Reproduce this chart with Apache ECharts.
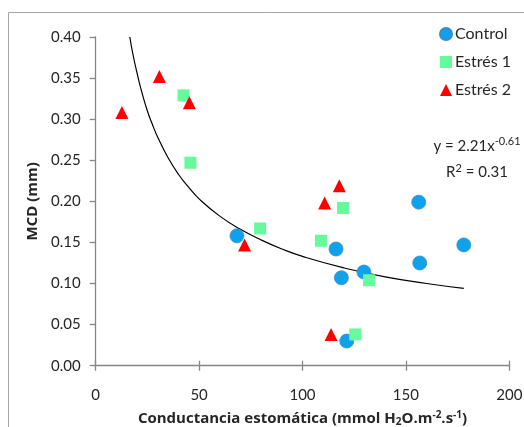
<!DOCTYPE html>
<html>
<head>
<meta charset="utf-8">
<script src="https://cdn.jsdelivr.net/npm/echarts@6/dist/echarts.min.js"></script>
<style>
  html, body { margin: 0; padding: 0; background: #fff; }
  #chart { width: 524px; height: 427px; }
</style>
</head>
<body>
<div id="chart"></div>
<script>
// datos
var controlX = [68.3, 116.2, 118.8, 129.7, 156.7, 178.0, 121.4, 156.2];
var controlY = [0.158, 0.142, 0.107, 0.114, 0.125, 0.147, 0.030, 0.199];

var estres1X = [42.5, 45.8, 79.5, 108.9, 119.6, 132.2, 125.5];
var estres1Y = [0.329, 0.247, 0.167, 0.152, 0.192, 0.104, 0.038];

var estres2X = [12.7, 30.8, 45.3, 72.0, 110.7, 117.8, 113.8];
var estres2Y = [0.308, 0.352, 0.320, 0.147, 0.198, 0.219, 0.038];

// curva de tendencia potencial
var trendX = [16.5, 18, 20, 22.5, 25, 27.5, 30, 35, 40, 45, 50, 60, 70, 80, 90, 100, 120, 140, 160, 178];
var trendY = [0.400, 0.379, 0.356, 0.331, 0.310, 0.293, 0.278, 0.253, 0.233, 0.217, 0.203, 0.182, 0.166, 0.153, 0.142, 0.133, 0.119, 0.108, 0.100, 0.094];

var xTicks = [0, 50, 100, 150, 200];
var yTicks = [0, 0.05, 0.10, 0.15, 0.20, 0.25, 0.30, 0.35, 0.40];

function pairs(xs, ys) {
    return xs.map(function (x, i) { return [x, ys[i]]; });
}

var fontFam = 'Lato, "Open Sans", sans-serif';
var nameFam = '"Open Sans", Lato, sans-serif';
var axisGray = '#868686';
var textColor = '#262626';

var chart = echarts.init(document.getElementById('chart'));

var option = {
    animation: false,
    grid: { left: 95.7, right: 14.7, top: 37, bottom: 61.3, outerBoundsMode: 'none', containLabel: false },
    textStyle: { fontFamily: fontFam },
    legend: {
        orient: 'vertical',
        left: 434,
        top: 21,
        itemWidth: 12,
        itemHeight: 12,
        itemGap: 12,
        textStyle: { fontSize: 16, color: textColor, fontFamily: fontFam, padding: [0, 0, 0, -2] },
        data: [
            { name: 'Control', icon: 'circle' },
            { name: 'Estrés 1', icon: 'rect' },
            { name: 'Estrés 2', icon: 'triangle' }
        ]
    },
    xAxis: [{
        type: 'value',
        min: 0,
        max: 200,
        interval: 50,
        splitLine: { show: false },
        axisLine: { lineStyle: { color: axisGray, width: 1.3 } },
        axisTick: { length: 5, lineStyle: { color: axisGray, width: 1.3 } },
        axisLabel: {
            margin: 22,
            fontSize: 15,
            color: textColor,
            formatter: function (v) { return xTicks.indexOf(v) >= 0 ? String(v) : ''; }
        },
        name: '{b|Conductancia estomática (mmol H}{sub|2}{b|O.m}{sup|-2}{b|.s}{sup|-1}{b|)}',
        nameLocation: 'middle',
        nameGap: 44,
        nameTextStyle: {
            rich: {
                b: { fontSize: 15, fontWeight: 'bold', color: textColor, fontFamily: nameFam },
                sub: { fontSize: 10, fontWeight: 'bold', color: textColor, fontFamily: nameFam, padding: [7, 0, 0, 0] },
                sup: { fontSize: 10, fontWeight: 'bold', color: textColor, fontFamily: nameFam, padding: [0, 0, 8, 0] }
            }
        }
    }, {
        // marcas interiores del eje x (las marcas cruzan el eje)
        type: 'value',
        position: 'bottom',
        min: 0,
        max: 200,
        interval: 50,
        splitLine: { show: false },
        axisLine: { show: false },
        axisLabel: { show: false },
        axisTick: { inside: true, length: 5, lineStyle: { color: axisGray, width: 1.3 } }
    }],
    yAxis: {
        type: 'value',
        min: 0,
        max: 0.4,
        interval: 0.05,
        splitLine: { show: false },
        axisLine: { show: true, lineStyle: { color: axisGray, width: 1.3 } },
        axisTick: { show: true, length: 6, lineStyle: { color: axisGray, width: 1.3 } },
        axisLabel: {
            margin: 15,
            fontSize: 15,
            color: textColor,
            formatter: function (v) { return v.toFixed(2); }
        },
        name: 'MCD (mm)',
        nameLocation: 'middle',
        nameGap: 54,
        nameTextStyle: { fontSize: 15, fontWeight: 'bold', color: textColor, fontFamily: nameFam }
    },
    graphic: [
        {
            type: 'rect',
            shape: { x: 8.5, y: 12.5, width: 600, height: 600 },
            style: { fill: 'none', stroke: '#a6a6a6', lineWidth: 1 },
            silent: true
        },
        {
            type: 'text',
            x: 477,
            y: 146,
            style: {
                text: '{n|y = 2.21x}{s|-0.61}',
                align: 'center',
                verticalAlign: 'middle',
                rich: {
                    n: { fontSize: 15, fill: textColor, fontFamily: fontFam },
                    s: { fontSize: 11, fill: textColor, fontFamily: fontFam, padding: [0, 0, 9, 0] }
                }
            }
        },
        {
            type: 'text',
            x: 477,
            y: 172,
            style: {
                text: '{n|R}{s|2}{n| = 0.31}',
                align: 'center',
                verticalAlign: 'middle',
                rich: {
                    n: { fontSize: 15, fill: textColor, fontFamily: fontFam },
                    s: { fontSize: 11, fill: textColor, fontFamily: fontFam, padding: [0, 0, 8, 0] }
                }
            }
        }
    ],
    series: [
        {
            name: 'Tendencia',
            type: 'line',
            data: pairs(trendX, trendY),
            smooth: true,
            symbol: 'none',
            lineStyle: { color: '#000', width: 1.2 },
            z: 1
        },
        {
            name: 'Control',
            type: 'scatter',
            data: pairs(controlX, controlY),
            symbol: 'circle',
            symbolSize: 14,
            itemStyle: { color: '#0fa2ec', borderColor: '#3a8ccc', borderWidth: 0.8, opacity: 1 },
            z: 3
        },
        {
            name: 'Estrés 1',
            type: 'scatter',
            data: pairs(estres1X, estres1Y),
            symbol: 'rect',
            symbolSize: 12,
            itemStyle: { color: '#66fa9c', opacity: 1 },
            z: 3
        },
        {
            name: 'Estrés 2',
            type: 'scatter',
            data: pairs(estres2X, estres2Y),
            symbol: 'triangle',
            symbolSize: 13,
            itemStyle: { color: '#ff0000', opacity: 1 },
            z: 4
        }
    ]
};

chart.setOption(option);
</script>
</body>
</html>
